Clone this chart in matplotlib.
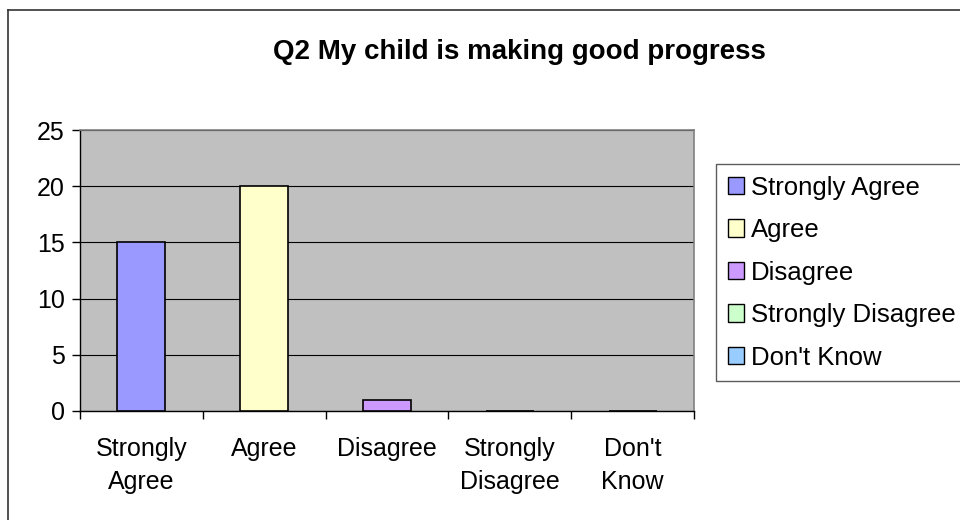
import numpy as np
import matplotlib
matplotlib.use("Agg")
import matplotlib.pyplot as plt
from matplotlib.lines import Line2D
from matplotlib.patches import Patch

plt.rcParams['font.family'] = ['Liberation Sans', 'DejaVu Sans']

categories = ["Strongly Agree", "Agree", "Disagree", "Strongly Disagree", "Don't Know"]
tick_labels = ["Strongly\nAgree", "Agree", "Disagree", "Strongly\nDisagree", "Don't\nKnow"]
counts = [15, 20, 1, 0, 0]
colors = ["#9999FF", "#FFFFCC", "#CC99FF", "#CCFFCC", "#99CCFF"]

W, H = 960, 520
fig = plt.figure(figsize=(W / 100, H / 100), dpi=100)
fig.patch.set_facecolor("white")

# outer chart frame (runs off the right and bottom edges)
fig.add_artist(Line2D([8 / W, 8 / W], [0, 1 - 10 / H], transform=fig.transFigure,
                      color="#333333", lw=1.2))
fig.add_artist(Line2D([8 / W, 1], [1 - 10 / H, 1 - 10 / H], transform=fig.transFigure,
                      color="#333333", lw=1.2))

ax = fig.add_axes([80 / W, (H - 411) / H, (694 - 80) / W, (411 - 130) / H])
ax.set_facecolor("#C0C0C0")

x = np.arange(len(categories))
ax.bar(x, counts, width=0.39, color=colors, edgecolor="black", linewidth=1.2, zorder=3)

ax.set_xlim(-0.5, len(categories) - 0.5)
ax.set_ylim(0, 25)
ax.set_yticks(np.arange(0, 26, 5))
ax.yaxis.grid(True, color="black", linewidth=0.8, zorder=1)
ax.set_axisbelow(True)

# category boundary ticks (major) and centred labels (minor)
ax.set_xticks(np.arange(-0.5, len(categories), 1.0))
ax.set_xticklabels([])
ax.set_xticks(x, minor=True)
ax.set_xticklabels(tick_labels, minor=True, fontsize=18, linespacing=1.45, va="top")
ax.tick_params(axis="x", which="major", direction="out", length=6, width=1, color="black")
ax.tick_params(axis="x", which="minor", length=0, pad=19)
ax.tick_params(axis="y", direction="out", length=6, width=1, labelsize=18, pad=5)

for s in ["left", "bottom"]:
    ax.spines[s].set_color("black")
    ax.spines[s].set_linewidth(1.0)
for s in ["top", "right"]:
    ax.spines[s].set_color("#808080")
    ax.spines[s].set_linewidth(1.2)

fig.text(519 / W, 1 - 52 / H, "Q2 My child is making good progress",
         ha="center", va="center", fontsize=20, fontweight="bold")

handles = [Patch(facecolor=c, edgecolor="black", linewidth=1.0) for c in colors]
leg = fig.legend(handles, categories, loc="upper left",
                 bbox_to_anchor=(716 / W, 1 - 164 / H, 320 / W, 0),
                 bbox_transform=fig.transFigure, mode="expand",
                 fontsize=18.5, frameon=True, fancybox=False, borderaxespad=0,
                 handlelength=0.65, handleheight=0.65, handletextpad=0.25,
                 labelspacing=0.72, borderpad=0.45)
leg.get_frame().set_edgecolor("#333333")
leg.get_frame().set_linewidth(1.0)

fig.savefig("out.png", dpi=100)
